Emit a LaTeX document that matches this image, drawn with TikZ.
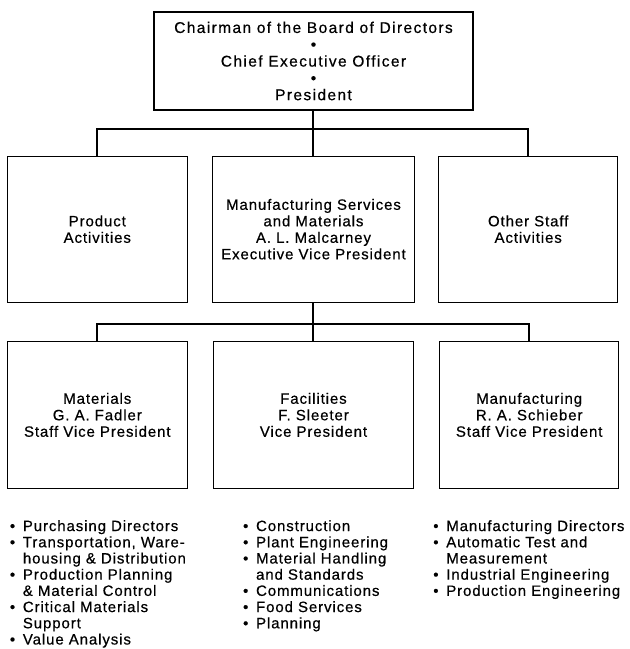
\documentclass[tikz,border=0pt]{standalone}
\usepackage{fontspec}
\setmainfont{Liberation Sans}[LetterSpace=6, FakeBold=0.5]
\usetikzlibrary{positioning}
\newcommand{\bul}{\makebox[13pt][l]{\textbullet}}
\newcommand{\cont}{\hspace*{13pt}}

\begin{document}
\begin{tikzpicture}[
    node distance=24pt,
    unit/.style={
      rectangle, draw=black, line width=1.2pt,
      font=\fontsize{15}{16.5}\selectfont, align=center,
      minimum width=180pt, minimum height=146pt, inner sep=2pt
    },
    tie/.style={black, line width=2pt},
    duties/.style={font=\fontsize{15}{16.2}\selectfont, align=left,
      inner sep=0pt, anchor=north west},
  ]
  \useasboundingbox (-313.5pt,61pt) rectangle (316.5pt,-588pt);

  % top of the chart
  \node[unit, minimum width=319pt, minimum height=98pt,
        font=\fontsize{15.5}{16.8}\selectfont\addfontfeature{LetterSpace=9}] (chair)
    {Chairman of the Board of Directors\\ \textbullet\\ Chief Executive Officer\\ \textbullet\\ President};

  % first level
  \node[unit, minimum width=202pt, below=45pt of chair] (msm)
    {Manufacturing Services\\ and Materials\\ A. L. Malcarney\\ Executive Vice President};
  \node[unit, left=of msm] (prod) {Product\\ Activities};
  \node[unit, minimum width=179pt, right=23pt of msm] (staff) {Other Staff\\ Activities};

  % second level
  \node[unit, minimum width=200pt, minimum height=147pt, below=38pt of msm] (fac)
    {Facilities\\ F. Sleeter\\ Vice President};
  \node[unit, minimum height=147pt, left=25pt of fac] (mat)
    {Materials\\ G. A. Fadler\\ Staff Vice President};
  \node[unit, minimum width=179pt, minimum height=147pt, right=25pt of fac] (mfg)
    {Manufacturing\\ R. A. Schieber\\ Staff Vice President};

  \coordinate (bar1) at ([yshift=-18pt]chair.south);
  \coordinate (bar2) at ([yshift=-21pt]msm.south);

  \draw[tie] (chair.south) -- (msm.north);
  \draw[tie] (prod.north) |- (bar1) -| (staff.north);
  \draw[tie] (msm.south) -- (fac.north);
  \draw[tie] (mat.north) |- (bar2) -| (mfg.north);

  % duties under each office
  \node[duties] (matlist) at ([xshift=3pt,yshift=-31pt]mat.south west)
    {\bul Purchasing Directors\\
     \bul Transportation, Ware-\\
     \cont housing \& Distribution\\
     \bul Production Planning\\
     \cont \& Material Control\\
     \bul Critical Materials\\
     \cont Support\\
     \bul Value Analysis};
  \node[duties] (faclist) at ([xshift=30pt,yshift=-31pt]fac.south west)
    {\bul Construction\\
     \bul Plant Engineering\\
     \bul Material Handling\\
     \cont and Standards\\
     \bul Communications\\
     \bul Food Services\\
     \bul Planning};
  \node[duties] (mfglist) at ([xshift=-6pt,yshift=-31pt]mfg.south west)
    {\bul Manufacturing Directors\\
     \bul Automatic Test and\\
     \cont Measurement\\
     \bul Industrial Engineering\\
     \bul Production Engineering};
\end{tikzpicture}
\end{document}
